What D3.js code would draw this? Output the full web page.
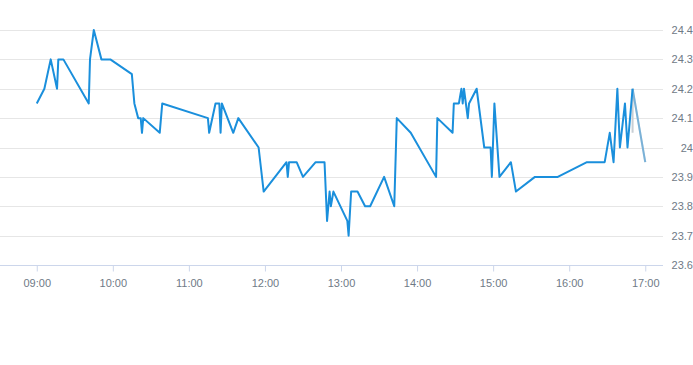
<!DOCTYPE html>
<html>
<head>
<meta charset="utf-8">
<script src="https://cdn.jsdelivr.net/npm/d3@7"></script>
<style>
  html, body { margin: 0; padding: 0; background: #fff; }
  svg { display: block; font-family: "Liberation Sans", Arial, sans-serif; }
</style>
</head>
<body>
<svg id="chart" width="693" height="365"></svg>
<script>
// Intraday price line, Highcharts-like look
const times = [
  "09:00", "09:06", "09:11", "09:16", "09:17", "09:21", "09:41", "09:42", "09:45", "09:51",
  "09:58", "10:15", "10:17", "10:20", "10:22", "10:23", "10:24", "10:37", "10:39", "11:15",
  "11:16", "11:21", "11:24", "11:25", "11:26", "11:35", "11:39", "11:55", "11:59", "12:17",
  "12:18", "12:19", "12:25", "12:30", "12:40", "12:47", "12:49", "12:51", "12:52", "12:54",
  "13:05", "13:06", "13:08", "13:13", "13:19", "13:23", "13:34", "13:42", "13:44", "13:55",
  "14:15", "14:16", "14:28", "14:29", "14:33", "14:35", "14:36", "14:37", "14:40", "14:41",
  "14:47", "14:53", "14:58", "14:59", "15:01", "15:05", "15:14", "15:18", "15:33", "15:51",
  "16:14", "16:28", "16:32", "16:35", "16:38", "16:40", "16:44", "16:46", "16:50"
];
const prices = [
  24.15, 24.2, 24.3, 24.2, 24.3, 24.3, 24.15, 24.3, 24.4, 24.3,
  24.3, 24.25, 24.15, 24.1, 24.1, 24.05, 24.1, 24.05, 24.15, 24.1,
  24.05, 24.15, 24.15, 24.05, 24.15, 24.05, 24.1, 24.0, 23.85, 23.95,
  23.9, 23.95, 23.95, 23.9, 23.95, 23.95, 23.75, 23.85, 23.8, 23.85,
  23.75, 23.7, 23.85, 23.85, 23.8, 23.8, 23.9, 23.8, 24.1, 24.05,
  23.9, 24.1, 24.05, 24.15, 24.15, 24.2, 24.15, 24.2, 24.1, 24.15,
  24.2, 24.0, 24.0, 23.9, 24.15, 23.9, 23.95, 23.85, 23.9, 23.9,
  23.95, 23.95, 24.05, 23.95, 24.2, 24.0, 24.15, 24.0, 24.2
];
// faded tail at the end of the session
const tailTimes = ["16:50", "16:50", "17:00"];
const tailPrices = [24.05, 24.2, 23.95];
const tailLineTimes = ["16:50", "17:00"];
const tailLinePrices = [24.2, 23.95];

const xDomain = ["08:31", "17:14"];
const xTicks = ["09:00", "10:00", "11:00", "12:00", "13:00", "14:00", "15:00", "16:00", "17:00"];
const yTicks = [23.6, 23.7, 23.8, 23.9, 24, 24.1, 24.2, 24.3, 24.4];

const parse = d3.timeParse("%H:%M");
const fmt = d3.timeFormat("%H:%M");

const svg = d3.select("#chart");
const plot = { left: 0, right: 663, top: 30, bottom: 265 };
const labelColor = "#6f7a86";

const x = d3.scaleTime()
  .domain(xDomain.map(parse))
  .range([plot.left, plot.right]);
const y = d3.scaleLinear()
  .domain([23.6, 24.4])
  .range([plot.bottom, plot.top]);

// horizontal grid
svg.append("g")
  .selectAll("line")
  .data(yTicks)
  .join("line")
  .attr("x1", plot.left)
  .attr("x2", plot.right)
  .attr("y1", d => Math.round(y(d)) + 0.5)
  .attr("y2", d => Math.round(y(d)) + 0.5)
  .attr("stroke", d => d === 23.6 ? "#ccd6eb" : "#e6e6e6")
  .attr("stroke-width", 1);

// y labels on the right
svg.append("g")
  .selectAll("text")
  .data(yTicks)
  .join("text")
  .attr("x", 693)
  .attr("y", d => y(d) + 4)
  .attr("text-anchor", "end")
  .attr("font-size", 11)
  .attr("fill", labelColor)
  .text(d => d3.format("~g")(d));

// x axis
const xAxis = svg.append("g")
  .attr("transform", `translate(0,${plot.bottom + 0.5})`)
  .call(d3.axisBottom(x)
    .tickValues(xTicks.map(parse))
    .tickFormat(fmt)
    .tickSizeOuter(0)
    .tickSize(6)
    .tickPadding(8));
xAxis.select(".domain").remove();
xAxis.selectAll(".tick line").attr("stroke", "#ccd6eb");
xAxis.selectAll(".tick text")
  .attr("font-size", 11)
  .attr("font-family", "Liberation Sans, Arial, sans-serif")
  .attr("fill", labelColor);

const line = d3.line()
  .x(d => x(d[0]))
  .y(d => y(d[1]));

const mainData = times.map((t, i) => [parse(t), prices[i]]);
const tailData = tailTimes.map((t, i) => [parse(t), tailPrices[i]]);
const tailLine = tailLineTimes.map((t, i) => [parse(t), tailLinePrices[i]]);

svg.append("path")
  .datum(tailData)
  .attr("d", line)
  .attr("fill", "none")
  .attr("stroke", "#c8ced4")
  .attr("stroke-width", 2);

svg.append("path")
  .datum(mainData)
  .attr("d", line)
  .attr("fill", "none")
  .attr("stroke", "#1a8fdc")
  .attr("stroke-width", 2)
  .attr("stroke-linejoin", "round");

svg.append("path")
  .datum(tailLine)
  .attr("d", line)
  .attr("fill", "none")
  .attr("stroke", "#1a8fdc")
  .attr("stroke-opacity", 0.45)
  .attr("stroke-width", 2);
</script>
</body>
</html>
